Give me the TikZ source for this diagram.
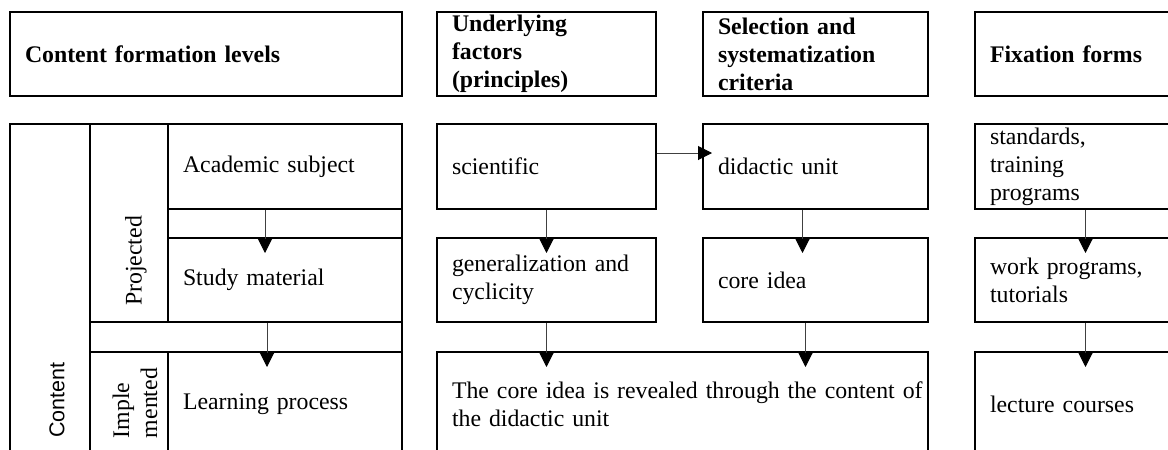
\documentclass[tikz,border=0pt]{standalone}
\usepackage{fontspec}
\setmainfont{Liberation Serif}
\newfontfamily\sansfont{Liberation Sans}
\usetikzlibrary{arrows.meta,calc}

\tikzset{
  cell/.style 2 args={draw=black, line width=2pt, anchor=north west, align=left,
    inner xsep=15pt, inner ysep=0pt, text width=#1, minimum height=#2},
  bar/.style 2 args={draw=black, line width=2pt, anchor=north west, inner sep=0pt,
    minimum width=#1, minimum height=#2},
  head/.style={font=\fontsize{23.8}{28}\selectfont\bfseries},
  link/.style={draw=black!75, line width=1pt, -{Triangle[width=14pt,length=14pt,color=black]}}
}

\begin{document}
\begin{tikzpicture}[x=1pt, y=-1pt, font=\fontsize{23.8}{28}\selectfont]
      \useasboundingbox (0,0) rectangle (1168,450);

      % header row
      \node[cell={362pt}{84pt}, head, name=hlevels] at (9,11) {Content formation levels};
      \node[cell={189pt}{84pt}, head, name=hfactors] at (436,11) {Underlying\\factors\\(principles)};
      \node[cell={195pt}{84pt}, head, name=hcriteria] at (702,11) {Selection and\\systematization\\criteria};
      \node[cell={191pt}{84pt}, head, name=hforms] at (974,11) {Fixation forms};

      % levels table
      \node[bar={80pt}{332pt}, name=content] at (9,123) {};
      \node[bar={78pt}{198pt}, name=proj] at (89,123) {};
      \node[bar={312pt}{30pt}, name=gap] at (89,321) {};
      \node[bar={78pt}{104pt}, name=impl] at (89,351) {};
      \node[bar={234pt}{29pt}, name=split] at (167,208) {};
      \node[rotate=90, name=contenttxt, font=\sansfont\fontsize{21.5}{26}\selectfont] at (57,400) {Content};
      \node[rotate=90, name=projtxt] at (136,261) {Projected};
      \node[rotate=90, align=left, name=impltxt] at (135,403) {Imple\\mented};

      \node[cell={204pt}{85pt}, name=acad] at (167,123) {Academic subject};
      \node[cell={204pt}{84pt}, name=study] at (167,237) {Study material};
      \node[cell={204pt}{104pt}, name=learn] at (167,351) {Learning process};

      % principles and criteria
      \node[cell={189pt}{85pt}, name=sci] at (436,123) {scientific};
      \node[cell={189pt}{84pt}, name=gen] at (436,237) {generalization and\\cyclicity};
      \node[cell={195pt}{85pt}, name=did] at (702,123) {didactic unit};
      \node[cell={195pt}{84pt}, name=core] at (702,237) {core idea};
      \node[cell={461pt}{104pt}, name=reveal] at (436,351) {\mbox{The core idea is revealed through the content of}\\the didactic unit};

      % fixation forms
      \node[cell={191pt}{85pt}, name=std] at (974,123) {standards,\\training\\programs};
      \node[cell={191pt}{84pt}, name=work] at (974,237) {work programs,\\tutorials};
      \node[cell={191pt}{104pt}, name=lect] at (974,351) {lecture courses};

      \path[every edge/.style={link}]
         ([xshift=-20pt]acad.south) edge ([xshift=-20pt,yshift=-16pt]study.north)
         ([xshift=-18pt]study.south) edge ([xshift=-18pt,yshift=-16pt]learn.north)
         (sci.south) edge ([yshift=-16pt]gen.north)
         (gen.south) edge ($(gen.south |- reveal.north)+(0,16)$)
         ([xshift=-13pt]did.south) edge ([xshift=-13pt,yshift=-16pt]core.north)
         ([xshift=-10pt]core.south) edge ($([xshift=-10pt]core.south |- reveal.north)+(0,16)$)
         ([yshift=13.5pt]sci.east) edge ([xshift=10pt,yshift=13.5pt]did.west)
         (std.south) edge ([yshift=-16pt]work.north)
         (work.south) edge ([yshift=-16pt]lect.north);
   \end{tikzpicture}
\end{document}
